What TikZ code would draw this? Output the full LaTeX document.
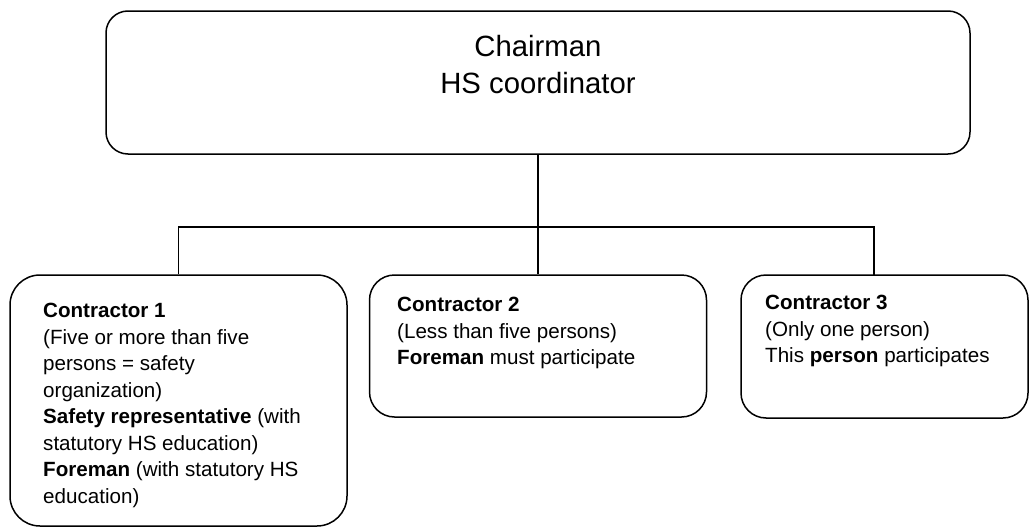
\documentclass[tikz,border=0pt]{standalone}
\usepackage{fontspec}
\setmainfont{Liberation Sans}
\usetikzlibrary{positioning,calc}

\tikzset{
  box/.style={draw, line width=1.5pt, rounded corners=#1, inner sep=0pt},
  box/.default=25pt,
  boxtext/.style={anchor=north west, inner sep=0pt, align=left, font=\fontsize{20.6}{26.5}\selectfont},
  link/.style={line width=1.5pt}
}

\begin{document}
\begin{tikzpicture}[x=1pt, y=-1pt]
  \useasboundingbox (0,0) rectangle (1031,530);
  \node[box=22pt, minimum width=864pt, minimum height=143pt] (chair) at (538,82.5) {};
  \node[anchor=north, inner sep=0pt, align=center, font=\fontsize{29.3}{37}\selectfont] (chairtext) at (538,35) {Chairman\\HS coordinator};

  \node[box=30pt, minimum width=337pt, minimum height=251pt] (c1) at (178.5,400.5) {};
  \node[box, minimum width=337pt, minimum height=142pt] (c2) at (538,346) {};
  \node[box, minimum width=287pt, minimum height=143pt] (c3) at (884.5,346.5) {};

  \node[boxtext] (c1text) at (43,303) {\textbf{Contractor 1}\\(Five or more than five\\persons = safety\\organization)\\\textbf{Safety representative} (with\\statutory HS education)\\\textbf{Foreman} (with statutory HS\\education)};
  \node[boxtext] (c2text) at (397,297) {\textbf{Contractor 2}\\(Less than five persons)\\\textbf{Foreman} must participate};
  \node[boxtext] (c3text) at (765,295) {\textbf{Contractor 3}\\(Only one person)\\This \textbf{person} participates};

  \coordinate (bus) at (538,227);
  \coordinate (drop3) at (874,275);
  \draw[link] (chair.south) -- (bus);
  \draw[link] (c1.north) |- (bus) -| (drop3);
  \draw[link] (bus) -- (c2.north);
\end{tikzpicture}
\end{document}
